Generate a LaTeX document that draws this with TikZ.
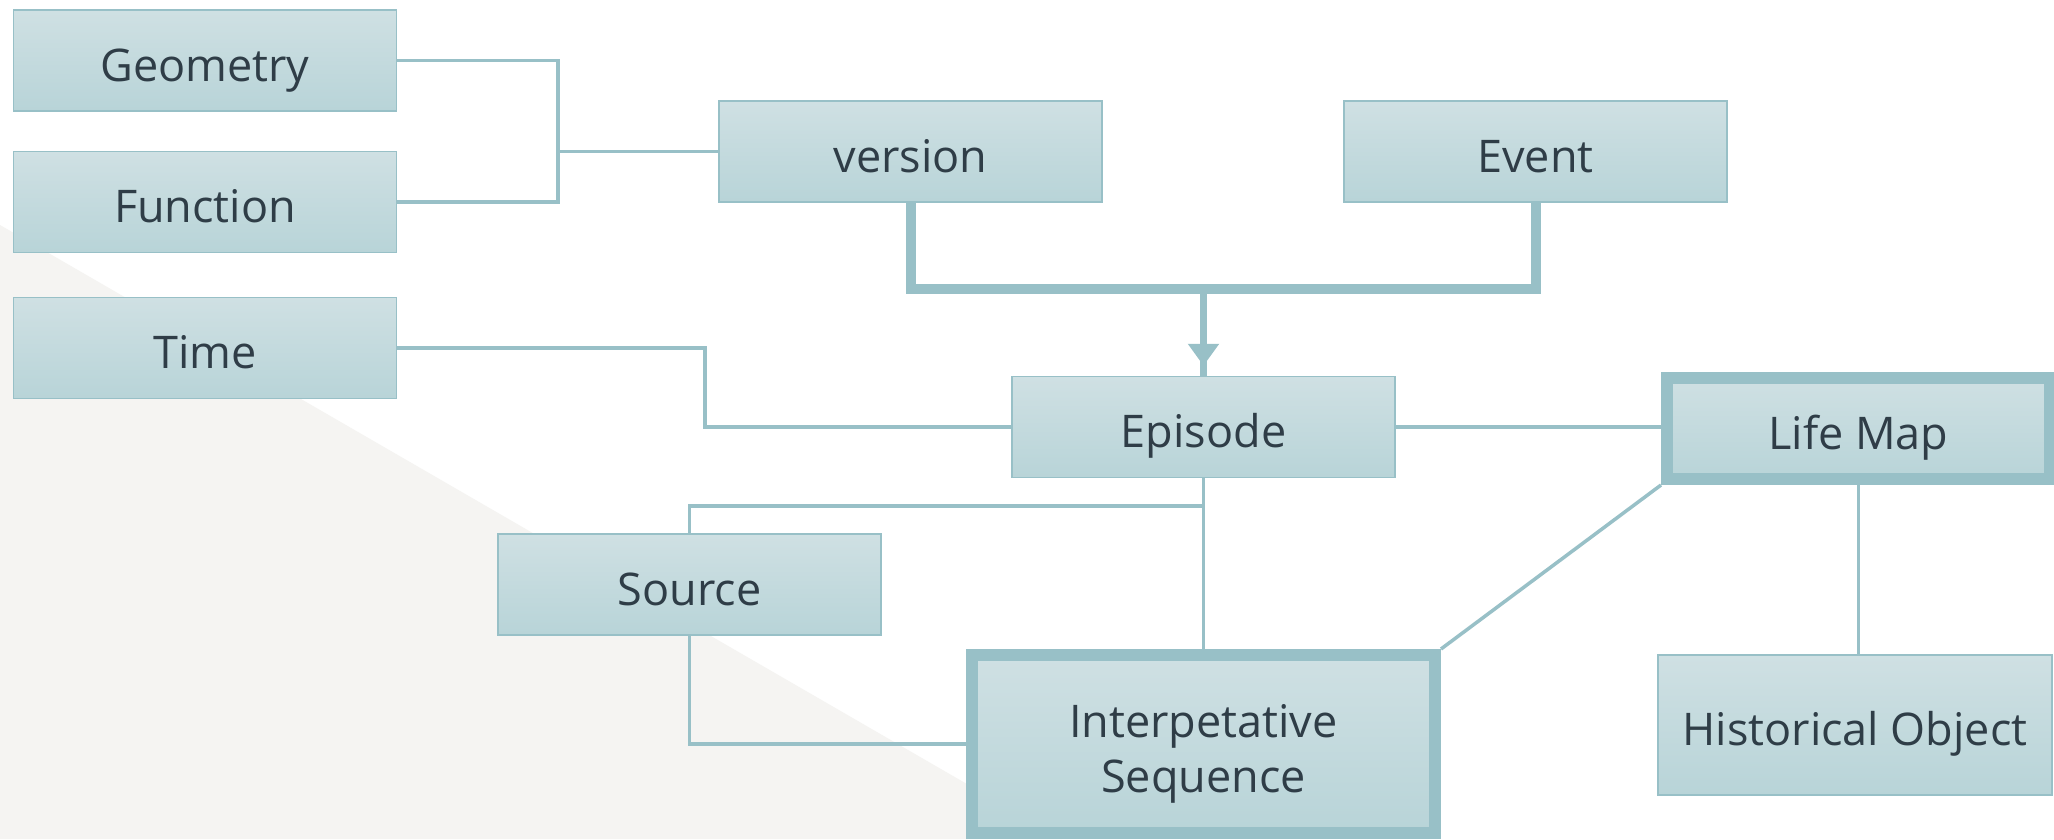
\documentclass[tikz,border=0pt]{standalone}
\usepackage{fontspec}
\setmainfont{Open Sans}
\usetikzlibrary{arrows.meta,calc}
\definecolor{boxtop}{HTML}{CFE0E3}
\definecolor{boxbot}{HTML}{B8D4D8}
\definecolor{edge}{HTML}{98C0C7}
\definecolor{ink}{HTML}{2F3D47}
\definecolor{paper}{HTML}{F5F4F2}

\begin{document}
\begin{tikzpicture}[x=1pt,y=-1pt,
  box/.style={draw=edge, line width=1.5pt, top color=boxtop, bottom color=boxbot,
    minimum width=383pt, minimum height=101pt, inner sep=0pt, text=ink,
    font=\fontsize{45}{55}\selectfont, text height=41pt, text depth=0pt},
  boldbox/.style={box, line width=12pt},
  conn/.style={draw=edge, line width=3.5pt},
  heavy/.style={draw=edge, line width=10pt, line join=miter},
]
% page and background wedge
\useasboundingbox (0,0) rectangle (2054,839);
\fill[white] (0,0) rectangle (2054,839);
\fill[paper] (0,225) -- (1062,839) -- (0,839) -- cycle;

% boxes
\node[box] (geometry) at (205,60.5) {Geometry};
\node[box] (function) at (205,202) {Function};
\node[box] (time)     at (205,348) {Time};
\node[box] (version)  at (910.5,151.5) {version};
\node[box] (event)    at (1535.5,151.5) {Event};
\node[box] (episode)  at (1203.5,427) {Episode};
\node[box] (source)   at (689.5,584.5) {Source};
\node[boldbox, minimum width=463pt, minimum height=178pt, align=center,
      text height=96pt, text depth=0pt] (interp) at (1203.5,744) {Interpetative\\Sequence};
\node[boldbox] (lifemap) at (1858.5,428.5) {Life Map};
\node[box, minimum width=394pt, minimum height=140pt] (hist) at (1855,725) {Historical Object};

% junction points
\coordinate (gf) at (558,151.5);
\coordinate (tbend) at (705,348);
\coordinate (bj) at (1203.5,289);
\coordinate (ssplit) at (1203.5,506);

% Geometry / Function into version
\draw[conn] (geometry.east) -| (gf);
\draw[conn] (function.east) -| (gf);
\draw[conn] (gf) -- (version.west);

% version and Event merge into Episode
\draw[heavy] (version.south) |- (bj) -| (event.south);
\draw[draw=edge, line width=7pt] (bj) -- (episode.north);
\draw[draw=edge, line width=7pt, -{Triangle[width=30pt,length=22pt]}] (bj) -- ([yshift=10pt]episode.north);

% Time into Episode
\draw[conn] (time.east) -- (tbend) |- (episode.west);

% Episode down to the sequence, with Source branch
\draw[conn] (episode.south) -- (interp.north);
\draw[conn] (ssplit) -| (source.north);
\draw[conn] (source.south) |- (interp.west);

% Life Map links
\draw[conn] (episode.east) -- (episode.east -| lifemap.west);
\draw[conn] (lifemap.south west) -- (interp.north east);
\draw[conn] (lifemap.south) -- (lifemap.south |- hist.north);
\end{tikzpicture}
\end{document}
